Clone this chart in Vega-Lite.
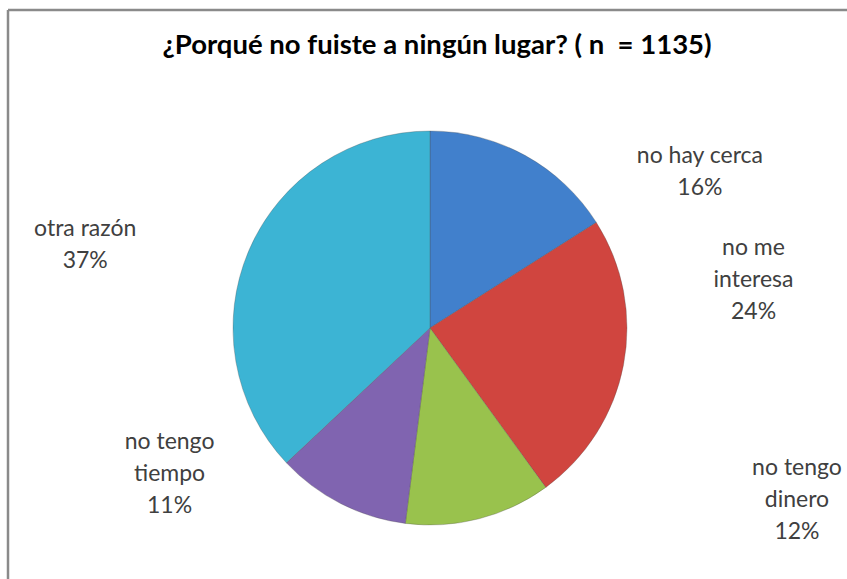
{
  "$schema": "https://vega.github.io/schema/vega-lite/v6.json",
  "width": 844,
  "height": 636,
  "autosize": {"type": "none"},
  "padding": {"left": 8, "top": 10, "right": -5, "bottom": -67},
  "background": "white",
  "config": {"view": {"stroke": null}},
  "title": {
    "text": "¿Porqué no fuiste a ningún lugar? ( n\u00a0 = 1135)",
    "font": "Lato",
    "fontSize": 27.5,
    "fontWeight": "bold",
    "color": "#000000",
    "anchor": "middle",
    "baseline": "middle",
    "offset": -65,
    "dx": 7
  },
  "data": {
    "values": [
      {"categoria": "no hay cerca", "porcentaje": 16, "orden": 1, "etiqueta": "no hay cerca\n16%"},
      {"categoria": "no me interesa", "porcentaje": 24, "orden": 2, "etiqueta": "no me\ninteresa\n24%"},
      {"categoria": "no tengo dinero", "porcentaje": 12, "orden": 3, "etiqueta": "no tengo\ndinero\n12%"},
      {"categoria": "no tengo tiempo", "porcentaje": 11, "orden": 4, "etiqueta": "no tengo\ntiempo\n11%"},
      {"categoria": "otra razón", "porcentaje": 37, "orden": 5, "etiqueta": "otra razón\n37%"}
    ]
  },
  "layer": [
    {
      "data": {"values": [{"marco": "izquierda"}]},
      "mark": {"type": "rule", "color": "#8a8a8a", "strokeWidth": 2.5},
      "encoding": {"x": {"value": 0}}
    },
    {
      "data": {"values": [{"marco": "arriba"}]},
      "mark": {"type": "rule", "color": "#8a8a8a", "strokeWidth": 2.5},
      "encoding": {"y": {"value": 0}}
    },
    {
      "mark": {"type": "arc", "outerRadius": 197, "stroke": "#4a4a4a", "strokeWidth": 0.6, "strokeOpacity": 0.5},
      "encoding": {
        "theta": {"field": "porcentaje", "type": "quantitative", "stack": true},
        "order": {"field": "orden", "type": "quantitative"},
        "color": {
          "field": "categoria",
          "type": "nominal",
          "scale": {
            "domain": ["no hay cerca", "no me interesa", "no tengo dinero", "no tengo tiempo", "otra razón"],
            "range": ["#4180cc", "#d0453f", "#99c24d", "#8064b0", "#3cb4d4"]
          },
          "legend": null
        }
      }
    },
    {
      "mark": {
        "type": "text",
        "radius": 197,
        "font": "Lato",
        "fontSize": 23,
        "lineHeight": 32,
        "lineBreak": "\n",
        "color": "#404040",
        "align": "center",
        "baseline": "middle",
        "dx": {"expr": "datum.categoria == 'no hay cerca' ? 175 : datum.categoria == 'no me interesa' ? 130 : datum.categoria == 'no tengo dinero' ? 318 : datum.categoria == 'no tengo tiempo' ? -171 : -164"},
        "dy": {"expr": "datum.categoria == 'no hay cerca' ? 1 : datum.categoria == 'no me interesa' ? -117 : datum.categoria == 'no tengo dinero' ? -51 : datum.categoria == 'no tengo tiempo' ? -62 : -21"}
      },
      "encoding": {
        "theta": {"field": "porcentaje", "type": "quantitative", "stack": true},
        "order": {"field": "orden", "type": "quantitative"},
        "text": {"field": "etiqueta", "type": "nominal"}
      }
    }
  ]
}
